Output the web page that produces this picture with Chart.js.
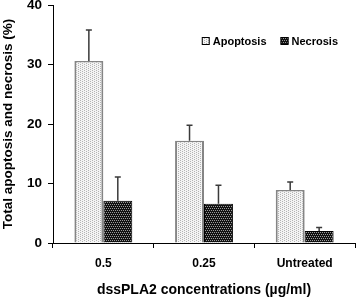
<!DOCTYPE html>
<html>
<head>
<meta charset="utf-8">
<script src="https://cdn.jsdelivr.net/npm/chart.js@4"></script>
<style>
  body { margin: 0; background: #fff; }
  #wrap { width: 356px; height: 299px; }
</style>
</head>
<body>
<div id="wrap"><canvas id="grafico"></canvas></div>
<script>
const categorias = ["0.5", "0.25", "Untreated"];
const apoptose = [30.6, 17.2, 8.9];
const apoptoseErro = [5.2, 2.6, 1.35];
const necrose = [7.1, 6.6, 2.0];
const necroseErro = [4.0, 3.1, 0.6];
const ticksY = [0, 10, 20, 30, 40];

const fonte = "'Liberation Sans', Arial, sans-serif";

// texturas das barras
function textura(fundo, ponto, pontos, w, h) {
  const c = document.createElement("canvas");
  c.width = w;
  c.height = h;
  const g = c.getContext("2d");
  g.fillStyle = fundo;
  g.fillRect(0, 0, w, h);
  g.fillStyle = ponto;
  pontos.forEach(p => g.fillRect(p[0], p[1], 1, 1));
  return g.createPattern(c, "repeat");
}
const ctx = document.getElementById("grafico");
const padraoApoptose = textura("#f4f4f4", "#b4b4b4", [[0, 0], [0, 2], [2, 1], [2, 3]], 4, 4);
const padraoNecrose = textura("#111", "#9a9a9a", [[0, 0], [2, 0], [1, 2], [3, 2]], 4, 4);

// barras de erro (so para cima)
const barrasDeErro = {
  id: "barrasDeErro",
  afterDatasetsDraw(chart) {
    const c = chart.ctx;
    const y = chart.scales.y;
    chart.data.datasets.forEach((ds, i) => {
      const meta = chart.getDatasetMeta(i);
      meta.data.forEach((bar, j) => {
        const topo = y.getPixelForValue(ds.data[j] + ds.erros[j]);
        c.save();
        c.strokeStyle = "#3a3a3a";
        c.lineWidth = 1.5;
        c.beginPath();
        c.moveTo(bar.x, bar.y);
        c.lineTo(bar.x, topo);
        c.moveTo(bar.x - 3, topo);
        c.lineTo(bar.x + 3, topo);
        c.stroke();
        c.restore();
      });
    });
  }
};

// legenda dentro da area do grafico, alinhada a direita
const legenda = {
  id: "legenda",
  afterDraw(chart) {
    const c = chart.ctx;
    const area = chart.chartArea;
    c.save();
    c.font = "bold 11px " + fonte;
    c.textBaseline = "middle";
    const caixa = 8, folga = 3, entre = 14;
    const larguras = chart.data.datasets.map(ds => caixa + folga + c.measureText(ds.label).width);
    const total = larguras.reduce((a, b) => a + b, 0) + entre * (larguras.length - 1);
    let x = area.right - 17 - total;
    const yc = 41;
    chart.data.datasets.forEach((ds, i) => {
      c.fillStyle = ds.backgroundColor;
      c.fillRect(x, yc - caixa / 2, caixa, caixa);
      c.strokeStyle = "#000";
      c.lineWidth = 1;
      c.strokeRect(x + 0.5, yc - caixa / 2 + 0.5, caixa - 1, caixa - 1);
      c.fillStyle = "#000";
      c.fillText(ds.label, x + caixa + folga, yc + 0.5);
      x += larguras[i] + entre;
    });
    c.restore();
  }
};

new Chart(ctx, {
  type: "bar",
  data: {
    labels: categorias,
    datasets: [
      {
        label: "Apoptosis",
        data: apoptose,
        erros: apoptoseErro,
        backgroundColor: padraoApoptose,
        borderColor: "#858585",
        borderWidth: { top: 1.5, left: 2, right: 2, bottom: 0 },
        borderSkipped: false
      },
      {
        label: "Necrosis",
        data: necrose,
        erros: necroseErro,
        backgroundColor: padraoNecrose,
        borderColor: "#000",
        borderWidth: 1
      }
    ]
  },
  options: {
    responsive: true,
    maintainAspectRatio: false,
    animation: false,
    categoryPercentage: 0.575,
    barPercentage: 1,
    layout: { padding: { top: 5, right: 1, left: 0, bottom: 0 } },
    plugins: {
      tooltip: { enabled: false },
      legend: { display: false }
    },
    scales: {
      x: {
        grid: { display: true, drawOnChartArea: false, tickLength: 5, color: "#000", offset: true },
        border: { color: "#000", width: 1 },
        ticks: { color: "#000", padding: 8, font: { family: fonte, size: 12, weight: "bold" } },
        title: {
          display: true,
          text: "dssPLA2 concentrations (µg/ml)",
          color: "#000",
          padding: { top: 0, bottom: 0 },
          font: { family: fonte, size: 14, weight: "bold" }
        },
        afterFit(scale) { scale.height = 56; }
      },
      y: {
        min: 0,
        max: 40,
        afterBuildTicks(scale) { scale.ticks = ticksY.map(v => ({ value: v })); },
        grid: { display: true, drawOnChartArea: false, tickLength: 5, color: "#000" },
        border: { color: "#000", width: 1 },
        ticks: { color: "#000", padding: 6, font: { family: fonte, size: 13.5, weight: "bold" } },
        title: {
          display: true,
          text: "Total apoptosis and necrosis (%)",
          color: "#000",
          padding: { top: 0, bottom: 0 },
          font: { family: fonte, size: 13.5, weight: "bold" }
        },
        afterFit(scale) {
          scale.width = 53;
          scale.paddingTop = 0;
          scale.paddingBottom = 0;
        }
      }
    }
  },
  plugins: [barrasDeErro, legenda]
});
</script>
</body>
</html>
